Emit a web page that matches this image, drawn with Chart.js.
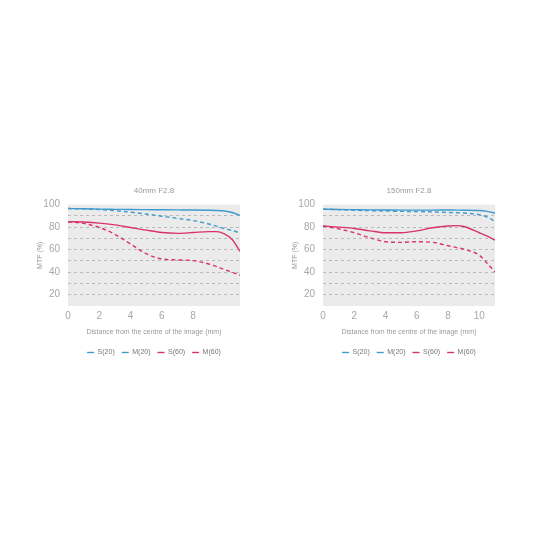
<!DOCTYPE html>
<html>
<head>
<meta charset="utf-8">
<script src="https://cdn.jsdelivr.net/npm/chart.js@4/dist/chart.umd.min.js"></script>
<style>
  body { margin: 0; background: #fff; width: 550px; height: 550px; position: relative; overflow: hidden; }
  canvas { position: absolute; }
  #left { left: 28px; top: 178px; }
  #right { left: 283px; top: 178px; }
</style>
</head>
<body>
<canvas id="left" width="222" height="188"></canvas>
<canvas id="right" width="222" height="188"></canvas>
<script>
// tick labels and series names
const seriesNames = ['S(20)', 'M(20)', 'S(60)', 'M(60)'];
const yTicks = [20, 40, 60, 80, 100];

// 40mm F2.8
const leftTitle = '40mm F2.8';
const leftDistance = [0, 1, 2, 3, 4, 5, 6, 7, 8, 9, 9.5, 10, 10.5, 11];
const leftS20 = [96.5, 96.3, 96, 95.8, 95.6, 95.5, 95.4, 95.3, 95.2, 95, 94.8, 94.3, 93, 90.5];
const leftM20 = [96.5, 96.2, 95.6, 94.6, 93.3, 91.6, 89.7, 87.8, 85.8, 82.8, 80.9, 78.8, 77, 75];
const leftS60 = [84.8, 84.5, 83.6, 82, 79.7, 77.3, 75.2, 74.5, 75.2, 76, 76, 74, 69, 58.5];
const leftM60 = [84.8, 83.3, 79.7, 73.6, 65, 56.4, 51.8, 50.9, 50.3, 47.3, 45, 42.4, 40, 37.3];

// 150mm F2.8
const rightTitle = '150mm F2.8';
const rightDistance = [0, 1, 2, 3, 4, 5, 6, 7, 8, 8.5, 9, 10, 10.5, 11];
const rightS20 = [96, 95.7, 95.5, 95.3, 95.2, 95.1, 95.1, 95.1, 95.2, 95.1, 95, 94.8, 94, 92.5];
const rightM20 = [96, 95.5, 95, 94.6, 94.3, 94, 93.8, 93.5, 93, 92.8, 92.5, 91, 89, 85];
const rightS60 = [81, 80, 78.8, 76.7, 75, 75, 76.7, 79.4, 81, 81.3, 80.6, 75, 72, 68.5];
const rightM60 = [81, 78.5, 75, 70.6, 67, 66.5, 67, 66.5, 63.5, 62, 60.5, 55, 48, 40];

const blue = '#3f9bcc';
const red = '#d9336e';
const tickGrey = '#a8a8a8';
const fontFamily = '"Liberation Sans", Arial, sans-serif';

// grey plot background
const plotBackground = {
  id: 'plotBackground',
  beforeDraw(chart) {
    const a = chart.chartArea;
    chart.ctx.save();
    chart.ctx.fillStyle = '#ebebec';
    chart.ctx.fillRect(a.left, a.top, a.right - a.left, a.bottom - a.top);
    chart.ctx.restore();
  }
};

function pairs(xs, ys) {
  return xs.map((x, i) => ({ x: x, y: ys[i] }));
}

function makeChart(id, title, xs, s20, m20, s60, m60, showTen) {
  const series = [s20, m20, s60, m60];
  const colors = [blue, blue, red, red];
  const dashes = [[], [4, 3], [], [4, 3]];
  return new Chart(document.getElementById(id).getContext('2d'), {
    type: 'line',
    data: {
      datasets: series.map((s, i) => ({
        label: seriesNames[i],
        data: pairs(xs, s),
        borderColor: colors[i],
        backgroundColor: colors[i],
        borderDash: dashes[i],
        borderWidth: 1.4,
        pointRadius: 0,
        cubicInterpolationMode: 'monotone',
        fill: false
      }))
    },
    options: {
      responsive: false,
      animation: false,
      layout: { padding: { right: 10, left: 0 } },
      plugins: {
        title: {
          display: true,
          text: title,
          fullSize: false,
          color: '#9a9a9a',
          font: { family: fontFamily, size: 8, weight: 'normal' },
          padding: { top: 8, bottom: 9 }
        },
        legend: {
          position: 'bottom',
          fullSize: false,
          labels: {
            usePointStyle: true,
            pointStyle: 'line',
            pointStyleWidth: 7,
            boxHeight: 5,
            color: '#777',
            padding: 7,
            font: { family: fontFamily, size: 7 }
          }
        },
        tooltip: { enabled: false }
      },
      scales: {
        x: {
          type: 'linear',
          min: 0,
          max: 11,
          afterFit(scale) { scale.height = 36; },
          afterBuildTicks(scale) {
            scale.ticks = (showTen ? [0, 2, 4, 6, 8, 10] : [0, 2, 4, 6, 8]).map(v => ({ value: v }));
          },
          grid: { display: false, drawTicks: false },
          border: { display: false },
          ticks: {
            color: tickGrey,
            padding: 4,
            maxRotation: 0,
            font: { family: fontFamily, size: 10 }
          },
          title: {
            display: true,
            text: 'Distance from the centre of the image (mm)',
            color: '#9a9a9a',
            font: { family: fontFamily, size: 7 },
            padding: { top: 0, bottom: 6 }
          }
        },
        y: {
          min: 10,
          max: 100,
          afterFit(scale) { scale.width = 40; },
          ticks: {
            stepSize: 10,
            autoSkip: false,
            color: tickGrey,
            padding: 8,
            font: { family: fontFamily, size: 10 },
            callback: v => yTicks.includes(v) ? v : ''
          },
          grid: {
            drawTicks: false,
            color: ctx => (ctx.tick.value === 10 || ctx.tick.value === 100) ? 'rgba(0,0,0,0)' : '#b9b9b9',
            lineWidth: 1
          },
          border: { display: false, dash: [3, 3] },
          title: {
            display: true,
            text: 'MTF (%)',
            color: '#9a9a9a',
            font: { family: fontFamily, size: 7 },
            padding: { top: 8, bottom: 8 }
          }
        }
      }
    },
    plugins: [plotBackground]
  });
}

makeChart('left', leftTitle, leftDistance, leftS20, leftM20, leftS60, leftM60, false);
makeChart('right', rightTitle, rightDistance, rightS20, rightM20, rightS60, rightM60, true);
</script>
</body>
</html>
